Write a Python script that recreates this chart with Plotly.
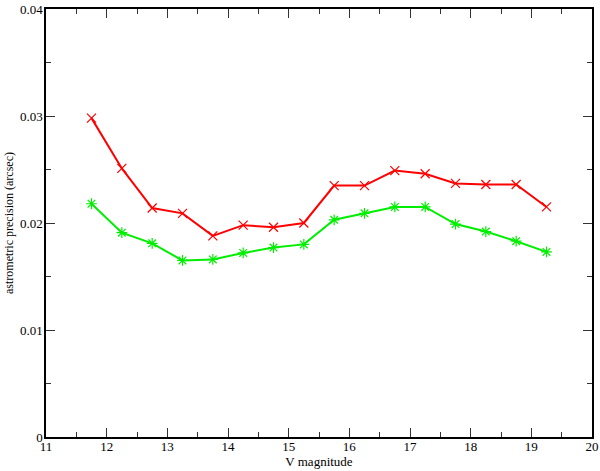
import plotly.graph_objects as go

v_mag = [11.75, 12.25, 12.75, 13.25, 13.75, 14.25, 14.75, 15.25,
         15.75, 16.25, 16.75, 17.25, 17.75, 18.25, 18.75, 19.25]
red_precision = [0.0298, 0.0251, 0.0214, 0.0209, 0.0188, 0.0198, 0.0196, 0.0200,
                 0.0235, 0.0235, 0.0249, 0.0246, 0.0237, 0.0236, 0.0236, 0.0215]
green_precision = [0.0218, 0.0191, 0.0181, 0.0165, 0.0166, 0.0172, 0.0177, 0.0180,
                   0.0203, 0.0209, 0.0215, 0.0215, 0.0199, 0.0192, 0.0183, 0.0173]

x_ticks = [11, 12, 13, 14, 15, 16, 17, 18, 19, 20]
y_ticks = [0, 0.01, 0.02, 0.03, 0.04]
y_ticktext = ["0", "0.01", "0.02", "0.03", "0.04"]

SERIF = "'Liberation Serif', 'Times New Roman', 'DejaVu Serif', serif"

fig = go.Figure()
fig.add_trace(go.Scatter(
    x=v_mag, y=red_precision, mode="lines+markers",
    line=dict(color="#ff0000", width=2),
    marker=dict(symbol="x-thin-open", size=9, color="#ff0000",
                line=dict(color="#ff0000", width=1.2)),
    showlegend=False))
fig.add_trace(go.Scatter(
    x=v_mag, y=green_precision, mode="lines+markers",
    line=dict(color="#00ee00", width=2),
    marker=dict(symbol="asterisk-open", size=9, color="#00ee00",
                line=dict(color="#00ee00", width=1.2)),
    showlegend=False))

axis_common = dict(
    showgrid=False, zeroline=False, showline=True, linecolor="black", linewidth=1.5,
    mirror="allticks", ticks="inside", ticklen=9, tickwidth=1, tickcolor="#333333",
    tickfont=dict(family=SERIF, size=13, color="black"),
    automargin=False,
)

fig.update_xaxes(
    range=[11, 20], tickvals=x_ticks, ticktext=[str(t) for t in x_ticks],
    minor=dict(ticks="inside", ticklen=5, tickwidth=1, tickcolor="#333333", dtick=0.5, tick0=11),
    ticklabelstandoff=-3,
    title=dict(text="V magnitude", font=dict(family=SERIF, size=13, color="black"),
               standoff=0),
    **axis_common)
fig.update_yaxes(
    range=[0, 0.04], tickvals=y_ticks, ticktext=y_ticktext,
    minor=dict(ticks="inside", ticklen=5, tickwidth=1, tickcolor="#333333", dtick=0.005, tick0=0),
    ticklabelstandoff=-1,
    title=dict(text="astrometric precision (arcsec)",
               font=dict(family=SERIF, size=12, color="black"), standoff=4),
    **axis_common)

fig.update_layout(
    width=600, height=471,
    margin=dict(l=46, r=8, t=9, b=34),
    plot_bgcolor="white", paper_bgcolor="white",
    font=dict(family=SERIF),
)

fig.write_html("out.html", config={"displayModeBar": False},
               post_script="document.body.style.margin='0';document.body.style.overflow='hidden';")
